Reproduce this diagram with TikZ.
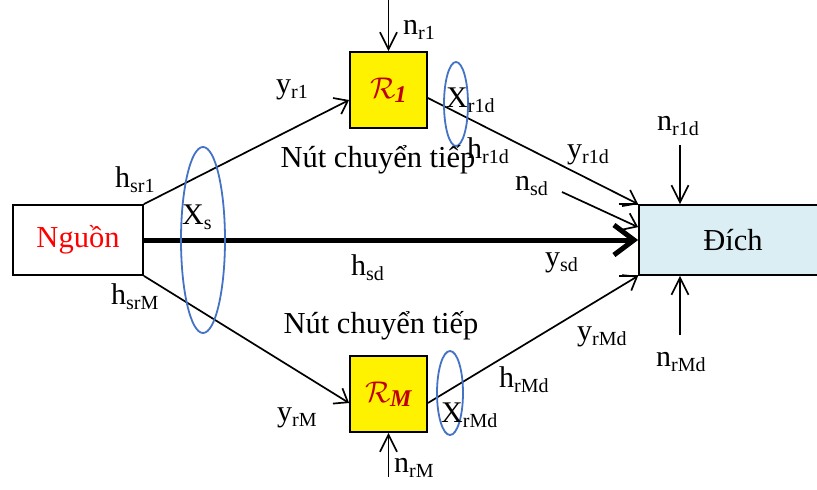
\RequirePackage{fix-cm}
\documentclass[tikz,border=0pt]{standalone}
\usepackage{fontspec}
\setmainfont{Liberation Serif}
\usetikzlibrary{arrows.meta,calc}
\definecolor{srcred}{RGB}{255,0,0}
\definecolor{rred}{RGB}{192,0,0}
\definecolor{dstblue}{RGB}{218,238,243}
\definecolor{ellblue}{RGB}{68,114,196}
\newcommand\lb[2]{#1\raisebox{-0.35ex}{\fontsize{20}{20}\selectfont #2}}
\newcommand\rlab[1]{{\color{rred}\fontsize{30}{30}\selectfont$\mathcal{R}$\kern-1pt\raisebox{-0.3ex}{\fontsize{24}{24}\selectfont\bfseries\itshape #1}}}
\begin{document}
\begin{tikzpicture}[x=1pt,y=-1pt,
  lbl/.style={inner sep=0pt, anchor=west, font=\fontsize{30}{32}\selectfont},
  clbl/.style={inner sep=0pt, font=\fontsize{30.5}{32}\selectfont},
  relay/.style={draw, line width=1.8pt, fill=yellow, minimum width=77pt, minimum height=76pt, inner sep=0pt},
  endbox/.style={draw, line width=1.8pt, minimum height=70pt, inner sep=0pt, font=\fontsize{30.5}{32}\selectfont},
  arr/.style={line width=1.7pt, -{Straight Barb[length=12pt,width=18pt]}},
  varr/.style={line width=1.7pt, -{Straight Barb[length=17pt,width=17pt]}},
  bigarr/.style={line width=5pt, -{Straight Barb[length=20pt,width=30pt]}},
  ell/.style={draw=ellblue, line width=1.8pt},
]
\useasboundingbox (0,0) rectangle (817,490);
\begin{scope}
\clip (0,0) rectangle (817,490);
% boxes
\node[endbox, minimum width=130pt, text=srcred] (src) at (78,240) {Nguồn};
\node[endbox, minimum width=188pt, fill=dstblue] (dst) at (733,240) {Đích};
\node[relay] (r1) at (388.5,90) {\rlab{1}};
\node[relay] (rM) at (388.5,394) {\rlab{M}};

% coordinates for free ends
\coordinate (nr1s) at (388.5,0);
\coordinate (nrMs) at (388.5,477);
\coordinate (nr1ds) at (680,145);
\coordinate (nrMds) at (680,335);
\coordinate (nsds) at (562,192);

% connectors
\draw[arr] (src.north east) -- ([yshift=-10pt]r1.west);
\draw[arr] (src.south east) -- ([yshift=-9pt]rM.west);
\draw[arr] ([yshift=-8pt]r1.east) -- (dst.north west);
\draw[arr] ([yshift=-9pt]rM.east) -- (dst.south west);
\draw[arr] (nsds) -- ([yshift=-23pt]dst.north west);
\draw[bigarr] (src.east) -- (dst.west);
\draw[varr] (nr1s) -- (r1.north);
\draw[varr] (nrMs) -- (rM.south);
\draw[varr] (nr1ds) -- (nr1ds |- dst.north);
\draw[varr] (nrMds) -- (nrMds |- dst.south);
\draw[line width=1.6pt] ([xshift=-19pt]dst.north west) -- (dst.north west);
\draw[line width=1.6pt] ([xshift=-19pt]dst.south west) -- (dst.south west);

% ellipses
\draw[ell] (203,240) ellipse [x radius=22pt, y radius=93pt];
\draw[ell] (456,104) ellipse [x radius=12pt, y radius=42pt];
\draw[ell] (450,393) ellipse [x radius=13pt, y radius=42pt];

% labels
\node[lbl] (l1) at (403,30) {\lb{n}{r1}};
\node[lbl] (l2) at (276,90) {\lb{y}{r1}};
\node[lbl] (l3) at (115,180) {\lb{h}{sr1}};
\node[lbl] (l4) at (182,217) {\lb{X}{s}};
\node[lbl] (l5) at (111,297) {\lb{h}{srM}};
\node[lbl] (l6) at (351,268) {\lb{h}{sd}};
\node[lbl] (l7) at (545,263) {\lb{y}{sd}};
\node[clbl] (l8) at (378,160) {Nút chuyển tiếp};
\node[clbl] (l9) at (381,326) {Nút chuyển tiếp};
\node[lbl] (l10) at (446,100) {\lb{X}{r1d}};
\node[lbl] (l11) at (467,151) {\lb{h}{r1d}};
\node[lbl] (l12) at (567,155) {\lb{y}{r1d}};
\node[lbl] (l13) at (515,186) {\lb{n}{sd}};
\node[lbl] (l14) at (657,126) {\lb{n}{r1d}};
\node[lbl] (l15) at (656,362) {\lb{n}{rMd}};
\node[lbl] (l16) at (577,337) {\lb{y}{rMd}};
\node[lbl] (l17) at (499,380) {\lb{h}{rMd}};
\node[lbl] (l18) at (277,418) {\lb{y}{rM}};
\node[lbl] (l19) at (441,415) {\lb{X}{rMd}};
\node[lbl] (l20) at (394,468) {\lb{n}{rM}};
\end{scope}
\end{tikzpicture}
\end{document}
